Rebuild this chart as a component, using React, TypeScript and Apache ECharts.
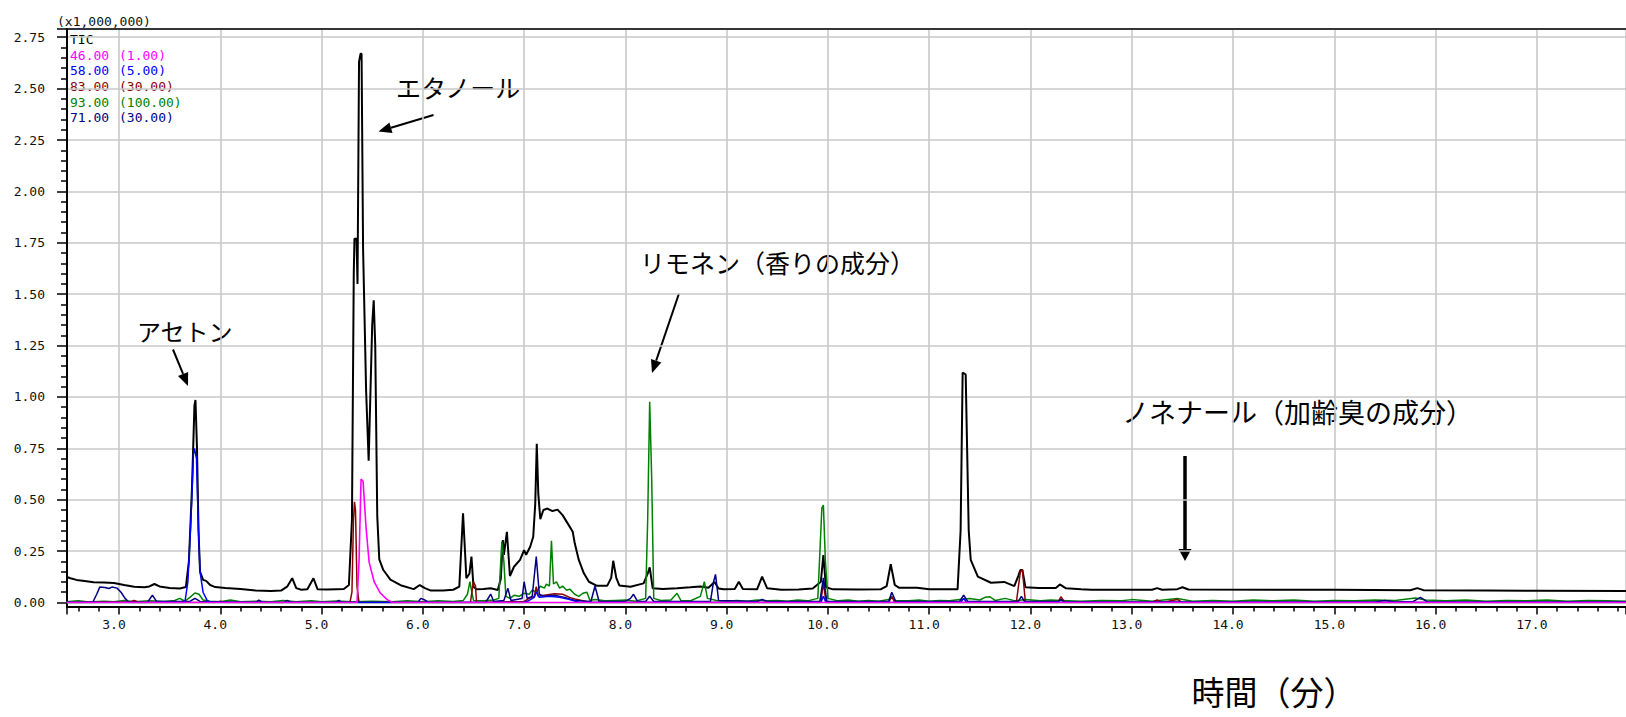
import React, { useEffect, useRef } from "react";
import * as echarts from "echarts";

// ---------- data (time in minutes, intensity in x1,000,000) ----------
const TIC: [number, number][] = [
  [2.48, 0.125], [2.52, 0.118], [2.58, 0.11], [2.66, 0.105], [2.75, 0.098], [2.85, 0.097], [2.95, 0.095],
  [3.05, 0.085], [3.15, 0.077], [3.25, 0.074], [3.3, 0.078], [3.35, 0.09], [3.4, 0.078], [3.5, 0.07],
  [3.6, 0.068], [3.66, 0.075], [3.69, 0.2], [3.72, 0.55], [3.745, 0.96], [3.755, 0.985], [3.77, 0.75],
  [3.785, 0.35], [3.8, 0.15], [3.83, 0.11], [3.86, 0.105], [3.9, 0.085], [3.95, 0.075], [4.05, 0.07],
  [4.2, 0.066], [4.35, 0.058], [4.5, 0.056], [4.6, 0.058], [4.66, 0.077], [4.71, 0.118], [4.75, 0.07],
  [4.8, 0.062], [4.86, 0.065], [4.92, 0.118], [4.96, 0.065], [5.05, 0.063], [5.15, 0.065], [5.22, 0.066],
  [5.27, 0.085], [5.3, 0.4], [5.318, 1.6], [5.325, 1.77], [5.345, 1.77], [5.355, 1.55], [5.37, 2.63],
  [5.385, 2.67], [5.395, 2.67], [5.41, 1.72], [5.44, 1.03], [5.465, 0.69], [5.5, 1.35], [5.515, 1.47],
  [5.53, 1.25], [5.55, 0.42], [5.57, 0.21], [5.61, 0.158], [5.68, 0.111], [5.78, 0.084], [5.91, 0.065],
  [5.97, 0.085], [6.02, 0.07], [6.08, 0.058], [6.2, 0.058], [6.3, 0.062], [6.36, 0.077], [6.397, 0.434],
  [6.43, 0.118], [6.46, 0.14], [6.48, 0.223], [6.5, 0.077], [6.53, 0.064], [6.6, 0.066], [6.67, 0.069],
  [6.74, 0.061], [6.77, 0.116], [6.79, 0.304], [6.8, 0.232], [6.83, 0.344], [6.86, 0.129], [6.9, 0.174],
  [6.96, 0.207], [7.0, 0.255], [7.02, 0.232], [7.06, 0.271], [7.09, 0.32], [7.11, 0.48], [7.125, 0.772],
  [7.14, 0.53], [7.16, 0.405], [7.19, 0.45], [7.23, 0.457], [7.28, 0.445], [7.33, 0.452], [7.38, 0.425],
  [7.43, 0.385], [7.48, 0.344], [7.5, 0.288], [7.54, 0.207], [7.59, 0.142], [7.64, 0.101], [7.72, 0.081],
  [7.82, 0.081], [7.86, 0.12], [7.88, 0.203], [7.91, 0.12], [7.94, 0.083], [8.05, 0.077], [8.18, 0.093],
  [8.22, 0.14], [8.24, 0.171], [8.27, 0.069], [8.37, 0.066], [8.51, 0.069], [8.64, 0.074], [8.74, 0.078],
  [8.82, 0.072], [8.88, 0.1], [8.92, 0.068], [8.97, 0.064], [9.08, 0.066], [9.12, 0.101], [9.16, 0.066],
  [9.3, 0.064], [9.35, 0.126], [9.4, 0.069], [9.54, 0.062], [9.71, 0.063], [9.85, 0.068], [9.93, 0.101],
  [9.955, 0.231], [9.98, 0.074], [10.05, 0.064], [10.3, 0.063], [10.52, 0.064], [10.58, 0.08], [10.62, 0.186],
  [10.66, 0.085], [10.7, 0.072], [10.88, 0.072], [11.0, 0.064], [11.28, 0.064], [11.31, 0.35], [11.33, 1.118],
  [11.36, 1.11], [11.39, 0.35], [11.41, 0.207], [11.48, 0.126], [11.61, 0.096], [11.74, 0.1], [11.84, 0.08],
  [11.88, 0.13], [11.9, 0.158], [11.92, 0.158], [11.95, 0.074], [12.08, 0.07], [12.25, 0.07], [12.29, 0.088],
  [12.35, 0.069], [12.5, 0.064], [12.6, 0.062], [13.2, 0.062], [13.25, 0.07], [13.3, 0.062], [13.45, 0.065],
  [13.5, 0.074], [13.56, 0.063], [14.5, 0.062], [15.0, 0.062], [15.75, 0.06], [15.82, 0.07], [15.88, 0.06],
  [16.5, 0.058], [17.0, 0.057], [17.88, 0.056],
];

const ION46: [number, number][] = [
  [2.48, 0], [5.35, 0], [5.37, 0.2], [5.39, 0.6], [5.41, 0.59], [5.44, 0.36], [5.47, 0.195], [5.52, 0.1],
  [5.58, 0.046], [5.65, 0.013], [5.7, 0], [17.88, 0],
];

const ION58: [number, number][] = [
  [2.48, 0], [3.65, 0], [3.68, 0.1], [3.71, 0.4], [3.735, 0.72], [3.745, 0.75], [3.765, 0.7], [3.785, 0.35],
  [3.8, 0.15], [3.83, 0.05], [3.87, 0.01], [3.9, 0], [7.0, 0], [7.05, 0.01], [7.1, 0.025], [7.12, 0.05],
  [7.15, 0.025], [7.25, 0.03], [7.35, 0.025], [7.45, 0.015], [7.55, 0], [9.93, 0], [9.955, 0.03], [9.98, 0],
  [11.31, 0], [11.34, 0.02], [11.37, 0], [17.88, 0],
];

const ION83: [number, number][] = [
  [2.48, 0], [3.1, 0.002], [3.15, 0.01], [3.2, 0], [3.95, 0], [4.0, 0.006], [4.05, 0], [5.28, 0], [5.3, 0.05],
  [5.315, 0.4], [5.325, 0.49], [5.335, 0.45], [5.35, 0.08], [5.37, 0], [6.47, 0], [6.49, 0.07], [6.5, 0.101],
  [6.52, 0.08], [6.53, 0], [7.0, 0.005], [7.05, 0.02], [7.1, 0.03], [7.12, 0.077], [7.14, 0.03], [7.2, 0.035],
  [7.3, 0.043], [7.38, 0.04], [7.45, 0.025], [7.5, 0.017], [7.58, 0.008], [7.65, 0], [9.93, 0], [9.955, 0.1],
  [9.98, 0], [10.6, 0], [10.63, 0.028], [10.66, 0], [11.86, 0], [11.9, 0.15], [11.92, 0.158], [11.95, 0],
  [12.27, 0], [12.3, 0.028], [12.34, 0], [13.2, 0], [13.25, 0.012], [13.3, 0], [13.45, 0.015], [13.5, 0],
  [17.88, 0],
];

const ION93: [number, number][] = [
  [2.48, 0.004], [2.6, 0.008], [2.7, 0.003], [2.85, 0.006], [2.95, 0.004], [3.05, 0.01], [3.15, 0.004],
  [3.3, 0.008], [3.45, 0.005], [3.55, 0.01], [3.6, 0.02], [3.65, 0.006], [3.7, 0.025], [3.75, 0.046],
  [3.79, 0.04], [3.83, 0.012], [3.9, 0.006], [4.0, 0.004], [4.1, 0.012], [4.2, 0.004], [4.35, 0.006],
  [4.5, 0.004], [4.62, 0.01], [4.75, 0.004], [4.9, 0.008], [5.0, 0.004], [5.15, 0.007], [5.3, 0.004],
  [5.5, 0.006], [5.7, 0.004], [5.85, 0.008], [6.0, 0.004], [6.15, 0.008], [6.3, 0.005], [6.4, 0.01],
  [6.44, 0.04], [6.465, 0.101], [6.48, 0.06], [6.5, 0.01], [6.6, 0.008], [6.7, 0.012], [6.75, 0.02],
  [6.78, 0.296], [6.8, 0.2], [6.82, 0.03], [6.86, 0.02], [6.9, 0.035], [6.95, 0.03], [7.0, 0.045],
  [7.05, 0.04], [7.08, 0.06], [7.12, 0.05], [7.16, 0.08], [7.2, 0.07], [7.22, 0.09], [7.25, 0.08],
  [7.27, 0.3], [7.29, 0.09], [7.32, 0.1], [7.35, 0.07], [7.38, 0.08], [7.42, 0.06], [7.45, 0.065],
  [7.5, 0.04], [7.54, 0.03], [7.58, 0.045], [7.62, 0.05], [7.65, 0.01], [7.7, 0.015], [7.8, 0.008],
  [7.9, 0.01], [8.0, 0.012], [8.1, 0.006], [8.2, 0.02], [8.22, 0.4], [8.24, 0.977], [8.26, 0.6],
  [8.28, 0.02], [8.35, 0.01], [8.45, 0.012], [8.51, 0.045], [8.55, 0.008], [8.65, 0.01], [8.74, 0.03],
  [8.78, 0.101], [8.81, 0.02], [8.9, 0.01], [9.0, 0.006], [9.1, 0.01], [9.2, 0.006], [9.3, 0.012],
  [9.4, 0.008], [9.5, 0.01], [9.6, 0.006], [9.7, 0.012], [9.8, 0.008], [9.9, 0.02], [9.94, 0.46],
  [9.955, 0.474], [9.975, 0.2], [10.0, 0.02], [10.1, 0.008], [10.2, 0.012], [10.3, 0.006], [10.4, 0.01],
  [10.5, 0.006], [10.6, 0.015], [10.63, 0.03], [10.66, 0.01], [10.8, 0.008], [10.9, 0.012], [11.0, 0.006],
  [11.1, 0.01], [11.2, 0.008], [11.3, 0.015], [11.4, 0.02], [11.5, 0.012], [11.55, 0.025], [11.6, 0.028],
  [11.65, 0.01], [11.75, 0.02], [11.85, 0.008], [11.95, 0.015], [12.1, 0.008], [12.2, 0.012], [12.3, 0.01],
  [12.5, 0.006], [12.7, 0.01], [12.9, 0.008], [13.0, 0.014], [13.2, 0.006], [13.45, 0.02], [13.6, 0.006],
  [13.8, 0.01], [14.0, 0.006], [14.2, 0.012], [14.4, 0.008], [14.6, 0.012], [14.8, 0.006], [15.0, 0.01],
  [15.2, 0.008], [15.4, 0.012], [15.6, 0.01], [15.8, 0.022], [15.9, 0.012], [16.1, 0.008], [16.3, 0.012],
  [16.5, 0.006], [16.7, 0.01], [16.9, 0.008], [17.1, 0.012], [17.3, 0.006], [17.5, 0.01], [17.7, 0.008],
  [17.88, 0.006],
];

const ION71: [number, number][] = [
  [2.48, 0], [2.74, 0], [2.78, 0.04], [2.81, 0.075], [2.86, 0.073], [2.9, 0.068], [2.93, 0.075], [2.98, 0.07],
  [3.02, 0.05], [3.06, 0.02], [3.1, 0], [3.28, 0], [3.33, 0.036], [3.37, 0.005], [3.7, 0.005], [3.75, 0.02],
  [3.8, 0.005], [4.35, 0], [4.38, 0.012], [4.42, 0], [4.63, 0], [4.66, 0.01], [4.7, 0], [5.14, 0], [5.17, 0.01],
  [5.2, 0], [5.95, 0], [5.98, 0.02], [6.02, 0.012], [6.06, 0], [6.62, 0], [6.67, 0.041], [6.7, 0.005],
  [6.8, 0.01], [6.84, 0.069], [6.87, 0.01], [6.98, 0.02], [7.0, 0.101], [7.03, 0.02], [7.08, 0.03],
  [7.12, 0.223], [7.15, 0.04], [7.2, 0.03], [7.3, 0.035], [7.4, 0.025], [7.5, 0.01], [7.66, 0.005],
  [7.7, 0.08], [7.74, 0.005], [8.0, 0.005], [8.05, 0.02], [8.08, 0.04], [8.12, 0.005], [8.2, 0.005],
  [8.24, 0.03], [8.28, 0.005], [8.84, 0.005], [8.87, 0.1], [8.89, 0.137], [8.92, 0.01], [9.3, 0.005],
  [9.35, 0.015], [9.4, 0.005], [9.92, 0.005], [9.955, 0.12], [9.99, 0.005], [10.6, 0.005], [10.63, 0.05],
  [10.67, 0.005], [11.3, 0.005], [11.34, 0.036], [11.38, 0.005], [11.88, 0.005], [11.91, 0.03],
  [11.94, 0.005], [12.28, 0.005], [12.3, 0.015], [12.33, 0.003], [15.4, 0.002], [15.5, 0.01], [15.6, 0.003],
  [15.78, 0.005], [15.85, 0.025], [15.92, 0.003], [17.88, 0.002],
];

const legendNames = ["TIC", "46.00", "58.00", "83.00", "93.00", "71.00"];
const legendScales = ["", "(1.00)", "(5.00)", "(30.00)", "(100.00)", "(30.00)"];
const scaleNote = "(x1,000,000)";
const xTitle = "時間（分）";
const labelAcetone = "アセトン";
const labelEthanol = "エタノール";
const labelLimonene = "リモネン（香りの成分）";
const labelNonenal = "ノネナール（加齢臭の成分）";

const X_MIN = 2.4865;
const X_MAX = 17.88;
const Y_MAX = 2.79;

export default function App() {
  const ref = useRef<HTMLDivElement>(null);

  useEffect(() => {
    if (!ref.current) return;
    const chart = echarts.init(ref.current, null, { renderer: "svg" });

    const colors = ["#000000", "#ff00ff", "#0000ff", "#8b0000", "#008000", "#000080"];
    const mono = '"DejaVu Sans Mono", "Liberation Mono", monospace';
    const jp = '"Noto Sans CJK JP", "Noto Sans", sans-serif';

    const arrow = (x1: number, y1: number, x2: number, y2: number, w: number, hl: number, hw: number) => {
      const dx = x2 - x1, dy = y2 - y1;
      const len = Math.sqrt(dx * dx + dy * dy);
      const ux = dx / len, uy = dy / len;
      const bx = x2 - ux * hl, by = y2 - uy * hl;
      const nx = -uy, ny = ux;
      return [
        { type: "line", shape: { x1, y1, x2: bx, y2: by }, style: { stroke: "#000", lineWidth: w }, silent: true },
        {
          type: "polygon",
          shape: { points: [[x2, y2], [bx + nx * hw, by + ny * hw], [bx - nx * hw, by - ny * hw]] },
          style: { fill: "#000" },
          silent: true,
        },
      ];
    };

    const text = (t: string, x: number, y: number, size: number, fill: string, family: string, align = "left") => ({
      type: "text",
      x,
      y,
      silent: true,
      style: { text: t, fill, fontSize: size, fontFamily: family, lineHeight: size, align, verticalAlign: "middle" },
    });

    const legendY = [39, 55, 70.5, 86.3, 102, 117.8];
    const legendGraphics: any[] = [];
    legendNames.forEach((n, i) => {
      legendGraphics.push(text(n, 70, legendY[i], 13, colors[i], mono));
      if (legendScales[i]) legendGraphics.push(text(legendScales[i], 119, legendY[i], 13, colors[i], mono));
    });

    const seriesDefs = [
      { name: "TIC", data: TIC, color: colors[0], w: 2 },
      { name: "93.00", data: ION93, color: colors[4], w: 1.5 },
      { name: "83.00", data: ION83, color: colors[3], w: 1.5 },
      { name: "71.00", data: ION71, color: colors[5], w: 1.5 },
      { name: "58.00", data: ION58, color: colors[2], w: 1.5 },
      { name: "46.00", data: ION46, color: colors[1], w: 1.6 },
    ];

    chart.setOption({
      animation: false,
      backgroundColor: "#ffffff",
      grid: { left: 67, right: 0, top: 29, bottom: 114.5, containLabel: false, outerBoundsMode: "none" },
      xAxis: [
        {
          type: "value",
          min: X_MIN,
          max: X_MAX,
          splitNumber: 15,
          minInterval: 1,
          maxInterval: 1,
          offset: 4,
          axisLine: { show: true, onZero: false, lineStyle: { color: "#000", width: 2 } },
          axisTick: { show: true, inside: false, length: 8, lineStyle: { color: "#000", width: 1.5 } },
          minorTick: { show: true, splitNumber: 5, length: 5, lineStyle: { color: "#000", width: 1.5 } },
          axisLabel: {
            show: true,
            showMinLabel: false,
            showMaxLabel: false,
            margin: 11,
            color: "#111",
            fontSize: 13,
            fontFamily: mono,
            padding: [0, 10, 0, 0],
            formatter: (v: number) => v.toFixed(1),
          },
          splitLine: { show: true, lineStyle: { color: "#c8c8c8", width: 1.6 } },
        },
        {
          type: "value",
          position: "top",
          min: X_MIN,
          max: X_MAX,
          axisLine: { show: true, onZero: false, lineStyle: { color: "#000", width: 1.5 } },
          axisTick: { show: false },
          minorTick: { show: false },
          axisLabel: { show: false },
          splitLine: { show: false },
        },
      ],
      yAxis: {
        type: "value",
        min: 0,
        max: Y_MAX,
        interval: 0.25,
        axisLine: { show: true, onZero: false, lineStyle: { color: "#000", width: 2 } },
        axisTick: { show: true, inside: false, length: 10, lineStyle: { color: "#000", width: 1.5 } },
        minorTick: { show: true, splitNumber: 5, length: 6, lineStyle: { color: "#000", width: 1.5 } },
        axisLabel: {
          show: true,
          showMaxLabel: false,
          margin: 22,
          color: "#111",
          fontSize: 13,
          fontFamily: mono,
          formatter: (v: number) => v.toFixed(2),
        },
        splitLine: { show: true, lineStyle: { color: "#c8c8c8", width: 1.6 } },
      },
      series: seriesDefs.map((s) => ({
        type: "line",
        name: s.name,
        data: s.data,
        xAxisIndex: 0,
        yAxisIndex: 0,
        showSymbol: false,
        symbol: "none",
        silent: true,
        lineStyle: { color: s.color, width: s.w },
        itemStyle: { color: s.color },
      })),
      graphic: [
        { type: "line", shape: { x1: 67, y1: 600, x2: 67, y2: 608 }, style: { stroke: "#000", lineWidth: 2 }, silent: true },
        text(scaleNote, 57, 21, 13, "#111", mono),
        ...legendGraphics,
        text(labelEthanol, 396, 87, 25, "#000", jp),
        ...arrow(433.5, 115, 378.5, 131.5, 2, 13, 5.5),
        text(labelAcetone, 137, 330, 24, "#000", jp),
        ...arrow(173, 349.5, 188, 386, 2, 13, 5.5),
        text(labelLimonene, 640, 262, 25, "#000", jp),
        ...arrow(679, 293.5, 652, 373, 2, 13, 5.5),
        text(labelNonenal, 1122, 411, 27, "#000", jp),
        ...arrow(1185, 456, 1185, 561, 3.5, 12, 6.5),
        text(xTitle, 1274, 691, 33, "#000", jp, "center"),
      ],
    });

    return () => chart.dispose();
  }, []);

  return (
    <div
      ref={ref}
      style={{ position: "fixed", left: 0, top: 0, width: 1626, height: 717, background: "#ffffff" }}
    />
  );
}
